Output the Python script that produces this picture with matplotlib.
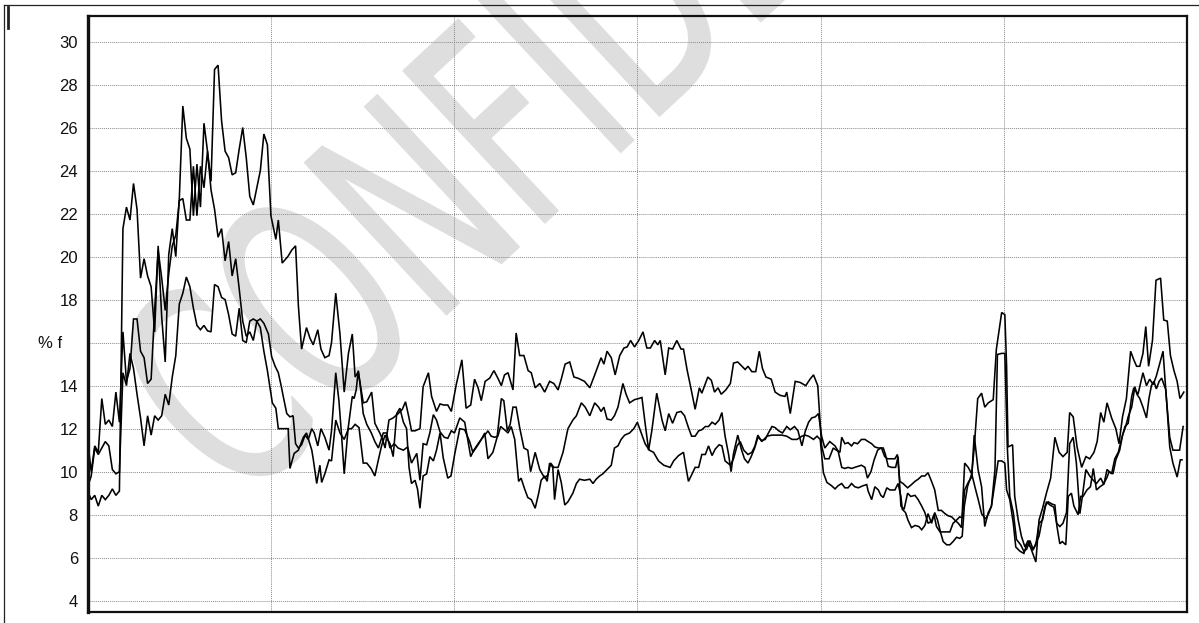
import matplotlib
matplotlib.use("Agg")
import matplotlib.pyplot as plt
from matplotlib.lines import Line2D
from matplotlib.textpath import TextPath
from matplotlib.patches import PathPatch
from matplotlib.font_manager import FontProperties
from matplotlib.transforms import Affine2D, IdentityTransform

plt.rcParams['font.family'] = ['Liberation Sans', 'DejaVu Sans']

# three weekly vol series: (week from start, % vol)
a_pts = [
    (0, 9.1), (1, 8.7), (2, 8.9), (3, 8.4), (4, 8.9), (5, 8.7), (6, 8.9), (7, 9.2), (8, 8.9), (9, 9.1),
    (10, 21.3), (11, 22.3), (12, 21.7), (13, 23.4), (14, 22.2), (15, 19.0), (16, 19.9), (17, 19.1), (18, 18.6), (19, 16.5),
    (20, 20.5), (21, 17.2), (22, 15.1), (23, 20.1), (24, 21.3), (25, 20.0), (26, 22.7), (27, 27.0), (28, 25.5), (29, 25.0),
    (30, 21.9), (31, 24.3), (32, 22.3), (33, 26.2), (34, 24.9), (35, 23.5), (36, 28.7), (37, 28.9), (38, 26.3), (39, 24.9),
    (40, 24.6), (41, 23.8), (42, 23.9), (43, 25.0), (44, 26.0), (45, 24.6), (46, 22.8), (47, 22.4), (48, 23.2), (49, 24.0),
    (50, 25.7), (51, 25.2), (52, 21.9), (53.4, 20.8), (54.1, 21.7), (55.2, 19.7), (56.8, 20.0), (57.9, 20.3), (59.0, 20.5), (59.8, 17.7),
    (60.7, 15.7), (62.1, 16.7), (63.1, 16.2), (64.0, 15.9), (65.3, 16.6), (66.2, 15.7), (67.3, 15.3), (68.5, 15.4), (69.2, 16.0), (70.4, 18.3),
    (71.6, 16.4), (72.8, 13.7), (74.0, 15.5), (75.1, 16.4), (75.9, 14.4), (76.8, 14.65), (78.2, 13.2), (79.2, 13.25), (80.6, 13.7), (81.5, 12.25),
    (82.9, 11.8), (83.7, 11.5), (84.4, 11.1), (85.5, 12.4), (86.7, 12.5), (88.1, 12.7), (89.3, 12.9), (90.2, 13.25), (91.2, 12.5), (91.9, 11.9),
    (92.9, 11.9), (94.3, 12.0), (95.2, 13.95), (96.7, 14.6), (97.6, 13.5), (99.0, 12.8), (100.0, 13.15), (101.0, 13.1), (102.2, 13.1), (103.2, 12.8),
    (104.6, 14.05), (106.2, 15.2), (107.4, 12.95), (108.7, 13.1), (109.8, 14.3), (110.8, 13.9), (111.7, 13.3), (112.8, 14.2), (114.1, 14.35), (115.3, 14.7),
    (116.4, 14.35), (117.4, 14.0), (118.3, 14.5), (119.3, 14.6), (120.7, 13.8), (121.6, 16.45), (122.6, 15.4), (123.8, 15.4), (125.0, 14.7), (125.9, 14.6),
    (127.0, 13.9), (128.3, 14.1), (129.7, 13.7), (131.1, 14.2), (132.3, 14.1), (133.5, 13.8), (134.4, 14.3), (135.5, 15.0), (136.8, 15.1), (138.0, 14.4),
    (139.1, 14.35), (141.0, 14.2), (142.5, 13.9), (143.9, 14.5), (145.7, 15.3), (146.5, 15.0), (147.4, 15.6), (148.6, 15.3), (149.7, 14.5), (151.0, 15.4),
    (152.2, 15.75), (153.1, 15.8), (154.1, 16.1), (155.2, 15.8), (156.4, 16.1), (157.6, 16.5), (158.7, 15.75), (159.7, 15.75), (160.9, 16.1), (161.8, 15.9),
    (162.5, 16.1), (163.9, 14.5), (164.9, 15.75), (166.0, 15.7), (167.2, 16.1), (168.4, 15.7), (169.1, 15.7), (170.1, 14.75), (171.3, 13.8), (172.4, 12.9),
    (173.6, 13.9), (174.3, 13.65), (176.0, 14.4), (177.0, 14.25), (177.9, 13.7), (178.9, 13.9), (179.8, 13.6), (181.1, 13.8), (182.4, 14.1), (183.3, 15.05),
    (184.5, 15.1), (185.7, 14.9), (186.6, 14.75), (187.4, 14.9), (188.5, 14.65), (189.6, 14.65), (190.6, 15.6), (191.5, 14.8), (192.5, 14.4), (194.0, 14.3),
    (195.1, 13.7), (196.5, 13.55), (197.9, 13.5), (198.4, 13.7), (199.4, 12.7), (200.8, 14.2), (202.2, 14.15), (203.8, 14.0), (205.0, 14.3), (206.0, 14.5),
    (207.2, 14.0), (208.3, 11.2), (209.2, 10.6), (210.4, 10.6), (211.6, 11.1), (212.5, 11.0), (213.5, 10.9), (214.0, 11.6), (214.9, 11.3), (215.8, 11.35),
    (216.8, 11.2), (217.5, 11.35), (218.5, 11.3), (219.6, 11.5), (220.6, 11.5), (221.5, 11.4), (222.5, 11.3), (223.4, 11.15), (224.4, 11.1), (225.3, 11.1),
    (226.2, 10.7), (227.0, 10.6), (228.1, 10.6), (229.1, 10.6), (229.8, 10.8), (230.5, 9.55), (231.4, 9.45), (232.7, 9.25), (233.8, 9.4), (234.8, 9.55),
    (235.7, 9.65), (236.7, 9.8), (237.6, 9.8), (238.5, 9.95), (239.5, 9.55), (240.4, 9.15), (241.4, 8.2), (242.3, 8.2), (243.3, 8.05), (244.2, 7.95),
    (245.2, 7.9), (246.1, 7.75), (247.1, 7.6), (248.0, 7.4), (248.9, 10.4), (249.9, 10.2), (250.9, 9.9), (251.6, 11.1), (252.6, 13.4), (253.7, 13.65),
    (254.6, 13.0), (255.6, 13.2), (257.0, 13.35), (257.9, 15.7), (259.4, 17.4), (260.3, 17.3), (260.8, 14.9), (261.2, 11.15), (262.5, 11.25), (263.1, 8.85),
    (264.1, 7.75), (265.0, 7.0), (266.0, 6.5), (266.9, 6.8), (267.9, 6.35), (269.1, 5.8), (270.0, 7.75), (271.0, 8.3), (272.1, 9.0), (273.3, 9.7),
    (274.5, 11.6), (275.7, 10.9), (276.8, 10.7), (278.0, 10.9), (278.7, 12.75), (279.7, 12.55), (280.8, 11.15), (282.1, 10.2), (283.3, 10.7), (284.4, 10.6),
    (285.6, 10.9), (286.5, 11.4), (287.5, 12.75), (288.4, 12.3), (289.3, 13.2), (290.6, 12.5), (291.8, 12.0), (292.7, 11.3), (293.7, 12.55), (294.8, 13.4),
    (296.0, 15.6), (296.9, 15.2), (297.7, 14.9), (298.6, 14.9), (299.5, 15.5), (300.3, 16.75), (301.1, 14.9), (302.2, 16.1), (303.2, 18.9), (304.5, 19.0),
    (305.4, 17.05), (306.4, 17.0), (307.3, 15.4), (308.3, 14.7), (309.2, 14.2), (310.0, 13.4), (311.1, 13.7),
]

b_pts = [
    (0, 11.4), (1, 10.0), (2, 11.2), (3, 10.9), (4, 13.4), (5, 12.2), (6, 12.4), (7, 12.1), (8, 13.7), (9, 12.3),
    (10, 16.5), (11, 14.2), (12, 14.8), (13, 17.1), (14, 17.1), (15, 15.6), (16, 15.3), (17, 14.1), (18, 14.3), (19, 17.5),
    (20, 20.3), (21, 19.0), (22, 17.5), (23, 19.2), (24, 20.5), (25, 21.0), (26, 22.6), (27, 22.7), (28, 21.7), (29, 21.7),
    (30, 24.2), (31, 21.9), (32, 24.2), (33, 23.2), (34, 24.9), (35, 23.1), (36, 22.2), (37, 20.9), (38, 21.3), (39, 19.8),
    (40, 20.7), (41, 19.1), (42, 19.9), (43, 18.5), (44, 17.0), (45, 16.3), (46, 16.5), (47, 16.1), (48, 17.0), (49, 17.1),
    (50, 16.9), (51.3, 16.4), (52.2, 15.35), (53.2, 14.9), (54.1, 14.6), (54.9, 14.0), (55.5, 13.5), (56.5, 12.7), (57.4, 12.55), (58.3, 12.6),
    (59.0, 11.3), (59.8, 11.1), (60.7, 11.25), (61.7, 11.7), (62.6, 11.5), (63.6, 12.0), (64.3, 11.8), (65.3, 11.2), (66.2, 12.0), (67.3, 11.6),
    (68.5, 11.0), (69.2, 11.9), (70.4, 14.6), (71.3, 13.3), (72.0, 11.8), (72.8, 9.9), (73.9, 12.0), (75.1, 13.5), (75.6, 13.4), (76.2, 13.8),
    (76.8, 14.7), (77.5, 13.8), (78.2, 12.7), (79.2, 12.2), (80.5, 11.8), (81.5, 11.4), (82.5, 11.1), (83.9, 11.8), (84.8, 11.8), (85.8, 11.1),
    (87.0, 11.3), (88.1, 11.1), (89.6, 11.0), (90.8, 11.15), (91.9, 10.4), (93.4, 10.85), (94.3, 9.6), (95.2, 11.3), (96.2, 11.25), (97.1, 11.8),
    (98.1, 12.65), (99.0, 12.4), (100.0, 11.85), (101.2, 11.6), (102.2, 11.55), (103.2, 11.9), (104.1, 11.8), (105.6, 12.5), (107.0, 12.3), (108.7, 10.7),
    (109.6, 11.0), (110.8, 11.3), (111.7, 11.5), (112.7, 11.8), (113.6, 10.6), (115.0, 10.9), (116.2, 11.6), (117.4, 13.4), (118.1, 13.3), (119.1, 11.9),
    (119.9, 12.2), (120.7, 13.0), (121.6, 13.0), (122.6, 12.05), (123.8, 11.1), (124.9, 11.0), (125.7, 10.0), (127.0, 10.9), (128.3, 10.1), (129.7, 9.7),
    (130.6, 9.85), (131.4, 10.4), (132.3, 10.2), (133.5, 10.2), (134.9, 10.9), (136.3, 12.0), (137.7, 12.4), (138.7, 12.6), (140.1, 13.2), (141.2, 13.0),
    (142.5, 12.6), (143.9, 13.2), (145.0, 13.0), (145.7, 12.8), (146.5, 13.0), (147.4, 12.45), (148.6, 12.4), (149.5, 12.6), (150.5, 13.0), (151.9, 14.1),
    (152.8, 13.6), (153.8, 13.2), (155.2, 13.35), (156.4, 13.4), (157.3, 13.45), (158.2, 12.25), (159.2, 11.0), (160.1, 11.9), (161.5, 13.65), (163.0, 12.4),
    (163.9, 11.9), (164.9, 12.7), (166.0, 12.25), (167.2, 12.75), (168.4, 12.8), (169.4, 12.6), (170.5, 12.05), (171.4, 11.65), (172.4, 11.65), (173.4, 11.9),
    (174.3, 11.95), (175.3, 12.1), (176.2, 12.1), (177.2, 12.3), (178.1, 12.2), (179.2, 12.4), (180.0, 12.75), (180.9, 11.65), (181.9, 10.8), (182.6, 10.0),
    (183.3, 10.85), (184.5, 11.7), (185.5, 11.05), (186.4, 10.6), (187.4, 10.4), (188.3, 10.7), (189.3, 11.1), (190.2, 11.6), (191.3, 11.45), (192.3, 11.5),
    (193.2, 11.8), (194.2, 12.1), (195.1, 12.05), (196.1, 11.9), (197.2, 11.8), (198.4, 12.1), (199.4, 11.95), (200.6, 12.1), (201.6, 11.9), (202.7, 11.2),
    (203.6, 11.85), (204.6, 12.3), (205.5, 12.5), (206.5, 12.55), (207.4, 12.7), (208.3, 11.65), (209.2, 11.1), (210.6, 11.4), (212.1, 11.2), (213.0, 10.95),
    (214.0, 10.2), (214.9, 10.15), (215.8, 10.2), (216.8, 10.15), (217.7, 10.2), (218.7, 10.25), (219.6, 10.3), (220.6, 10.2), (221.3, 9.7), (222.3, 10.0),
    (223.2, 10.55), (224.2, 11.0), (225.1, 11.1), (225.8, 11.1), (226.4, 10.8), (227.2, 10.25), (228.2, 10.2), (229.3, 10.2), (230.0, 10.7), (230.8, 8.4),
    (231.7, 8.25), (232.7, 9.0), (233.6, 8.85), (234.8, 8.9), (235.7, 8.7), (236.7, 8.4), (237.6, 8.1), (238.5, 7.6), (239.5, 7.7), (240.2, 8.0),
    (240.9, 7.45), (241.9, 7.2), (242.8, 7.2), (243.8, 7.2), (244.7, 7.2), (245.6, 7.6), (246.6, 7.75), (247.5, 7.9), (248.2, 7.85), (248.9, 9.15),
    (249.9, 9.5), (250.9, 9.75), (251.6, 11.7), (252.7, 10.1), (253.7, 9.3), (254.6, 7.45), (255.6, 8.1), (256.5, 8.4), (257.5, 10.1), (258.2, 15.45),
    (259.4, 15.5), (260.3, 15.5), (261.0, 11.15), (261.7, 8.85), (262.7, 8.1), (263.6, 6.85), (264.8, 6.6), (265.7, 6.3), (266.5, 6.4), (267.4, 6.8),
    (268.3, 6.4), (269.1, 6.6), (270.0, 7.6), (271.0, 7.75), (272.1, 8.6), (273.1, 8.45), (274.2, 8.35), (275.0, 7.6), (275.9, 7.45), (276.8, 7.6),
    (277.8, 8.1), (278.7, 11.3), (279.7, 11.6), (280.6, 10.4), (281.6, 8.05), (282.3, 8.85), (283.3, 10.1), (284.4, 9.8), (285.4, 9.6), (286.3, 9.45),
    (287.5, 9.7), (288.4, 9.4), (289.3, 10.1), (290.6, 9.9), (291.5, 10.6), (292.5, 10.9), (293.4, 11.5), (294.4, 12.1), (295.3, 12.25), (296.3, 13.5),
    (296.9, 13.9), (298.1, 13.6), (299.5, 14.6), (300.5, 14.0), (301.4, 14.3), (302.4, 14.05), (303.3, 14.45), (304.3, 15.05), (305.2, 15.6), (306.1, 13.5),
    (307.1, 11.6), (308.0, 11.0), (309.0, 11.0), (309.9, 11.0), (310.9, 12.1),
]

c_pts = [
    (0, 9.3), (1, 9.8), (2, 11.1), (3, 10.8), (4, 11.1), (5, 11.4), (6, 11.2), (7, 10.1), (8, 9.9), (9, 10.0),
    (10, 14.6), (11, 14.0), (12, 15.5), (13, 14.8), (14, 13.6), (15, 12.5), (16, 11.2), (17, 12.6), (18, 11.7), (19, 12.6),
    (20, 12.4), (21, 12.6), (22, 13.6), (23, 13.1), (24, 14.4), (25, 15.4), (26, 17.8), (27, 18.3), (28, 19.05), (29, 18.6),
    (30, 17.6), (31, 16.8), (32, 16.6), (33, 16.8), (34, 16.55), (35, 16.5), (36, 18.7), (37, 18.6), (38, 18.1), (39, 18.0),
    (40, 17.3), (41, 16.4), (42, 16.3), (43, 17.6), (44, 16.1), (45, 16.0), (46, 17.0), (47, 17.1), (48, 17.0), (49, 16.7),
    (50, 15.6), (51, 14.7), (52.4, 13.2), (53.4, 12.95), (54.1, 12.0), (55.5, 12.0), (56.9, 12.0), (57.4, 10.15), (58.6, 10.85), (59.8, 11.0),
    (61.2, 11.6), (62.1, 11.8), (63.6, 11.0), (64.0, 10.6), (65.0, 9.45), (65.9, 10.3), (66.4, 9.5), (67.3, 9.9), (68.5, 10.55), (69.2, 10.5),
    (70.4, 12.4), (71.6, 11.8), (72.8, 11.5), (74.0, 12.0), (74.9, 12.0), (75.9, 12.2), (77.0, 12.05), (78.2, 10.4), (79.2, 10.4), (80.4, 10.15),
    (81.5, 9.8), (82.5, 10.55), (83.4, 11.2), (84.4, 11.7), (85.8, 11.3), (86.7, 10.7), (87.7, 12.7), (88.6, 12.95), (89.6, 12.3), (90.5, 12.0),
    (91.2, 10.2), (91.9, 9.45), (92.9, 9.6), (93.6, 9.2), (94.3, 8.3), (95.2, 9.8), (96.2, 9.9), (97.1, 10.7), (98.1, 10.5), (99.0, 11.0),
    (100.0, 11.8), (100.9, 10.65), (102.2, 9.7), (103.1, 9.8), (104.2, 10.85), (105.6, 12.0), (107.0, 11.95), (108.4, 11.4), (109.3, 10.9), (110.8, 11.25),
    (111.7, 11.5), (112.7, 11.7), (113.6, 11.9), (114.5, 11.65), (115.5, 11.6), (116.4, 11.65), (117.2, 12.1), (118.3, 11.95), (119.3, 11.8), (120.2, 12.1),
    (121.2, 11.5), (122.3, 9.55), (123.0, 9.7), (124.0, 9.2), (124.9, 8.8), (125.9, 8.7), (127.0, 8.3), (128.0, 9.0), (128.7, 9.6), (129.7, 9.8),
    (130.4, 9.55), (131.1, 10.4), (132.0, 10.2), (132.5, 8.7), (133.5, 10.1), (134.4, 9.5), (135.4, 8.45), (136.3, 8.6), (137.7, 9.0), (138.7, 9.45),
    (139.6, 9.65), (141.0, 9.6), (142.5, 9.65), (143.4, 9.45), (144.3, 9.65), (145.3, 9.8), (146.2, 9.9), (147.4, 10.1), (148.6, 10.3), (149.5, 11.1),
    (150.5, 11.2), (151.4, 11.5), (152.4, 11.7), (153.8, 11.8), (155.0, 12.0), (156.0, 12.3), (157.3, 11.7), (158.2, 11.3), (159.4, 11.0), (160.6, 10.9),
    (162.0, 10.5), (163.5, 10.3), (164.4, 10.25), (165.3, 10.2), (166.3, 10.5), (167.7, 10.75), (169.1, 10.9), (169.8, 10.2), (170.5, 9.55), (171.4, 9.85),
    (172.4, 10.2), (173.4, 10.2), (174.3, 10.8), (175.3, 10.8), (176.2, 11.2), (177.2, 10.75), (178.1, 11.05), (179.2, 11.25), (180.0, 11.2), (180.9, 10.5),
    (182.4, 10.3), (183.3, 10.6), (184.3, 11.2), (185.2, 11.4), (186.2, 11.0), (187.4, 10.8), (188.5, 10.9), (189.4, 11.2), (190.2, 11.7), (191.3, 11.4),
    (192.8, 11.65), (194.2, 11.7), (195.6, 11.7), (197.0, 11.7), (198.4, 11.65), (199.9, 11.5), (201.3, 11.5), (202.7, 11.65), (203.6, 11.7), (204.6, 11.65),
    (206.0, 11.5), (207.0, 11.65), (207.9, 11.5), (208.8, 9.95), (209.8, 9.5), (211.1, 9.35), (212.1, 9.2), (213.0, 9.35), (214.0, 9.45), (214.9, 9.25),
    (215.8, 9.25), (216.8, 9.45), (217.7, 9.3), (218.7, 9.25), (220.1, 9.35), (221.1, 9.4), (221.5, 9.1), (222.5, 8.7), (223.4, 9.3), (224.4, 9.15),
    (225.1, 8.9), (225.8, 8.8), (226.8, 9.25), (227.7, 9.15), (229.1, 9.15), (230.0, 9.45), (230.8, 8.85), (231.2, 8.25), (232.1, 8.1), (232.8, 7.75),
    (233.8, 7.4), (234.8, 7.5), (235.9, 7.45), (236.7, 7.3), (237.6, 7.5), (238.5, 8.05), (239.5, 7.6), (240.4, 8.1), (241.2, 7.75), (242.1, 7.15),
    (242.8, 6.75), (243.8, 6.6), (244.7, 6.6), (245.6, 6.75), (246.6, 6.95), (247.5, 6.9), (248.2, 7.0), (248.8, 8.4), (249.7, 9.3), (250.9, 9.9),
    (251.8, 9.3), (252.9, 8.6), (253.7, 8.05), (254.8, 7.8), (255.7, 8.05), (256.5, 8.4), (257.5, 9.5), (258.4, 10.5), (259.4, 10.5), (260.3, 10.4),
    (260.8, 9.15), (261.7, 8.7), (262.7, 7.6), (263.4, 6.5), (264.6, 6.3), (265.7, 6.2), (266.6, 6.65), (267.6, 6.5), (268.3, 6.35), (269.3, 6.75),
    (270.0, 7.0), (270.7, 7.6), (271.7, 8.4), (272.6, 8.6), (273.6, 8.5), (274.5, 8.45), (275.1, 7.45), (275.9, 6.65), (276.6, 6.75), (277.6, 6.6),
    (278.3, 8.85), (279.2, 9.0), (279.9, 8.4), (281.1, 8.0), (281.8, 8.85), (282.5, 8.85), (283.6, 9.15), (284.6, 9.3), (285.4, 10.15), (286.3, 9.15),
    (287.3, 9.3), (288.2, 9.4), (289.2, 9.7), (289.9, 10.0), (291.0, 9.9), (291.8, 10.55), (292.9, 11.0), (293.7, 11.7), (294.6, 12.1), (295.3, 12.55),
    (296.3, 13.0), (297.2, 13.95), (297.8, 13.6), (298.6, 13.4), (299.5, 13.0), (300.5, 12.5), (301.2, 13.4), (301.9, 14.0), (302.6, 14.2), (303.3, 13.85),
    (304.1, 14.2), (304.8, 14.35), (306.0, 13.8), (307.1, 11.15), (308.0, 10.4), (309.2, 9.75), (310.1, 10.55), (310.6, 10.55),
]

y_ticks = list(range(4, 31, 2))
hidden_tick = 16          # the axis caption sits where this label would go
year_breaks = [52, 104, 156, 208, 260]
y_label = '% f'
stamp = 'CONFIDENTIAL'

W, H = 1199, 623
fig = plt.figure(figsize=(W / 100, H / 100), dpi=100)
fig.patch.set_facecolor('white')

# plot box in pixel terms
left, right, top, bottom = 87.7, 1187.0, 15.7, 611.7
ax = fig.add_axes([left / W, (H - bottom) / H, (right - left) / W, (bottom - top) / H])
ax.patch.set_visible(False)

# grey stamp across the chart, drawn in pixel space behind the axes
tp = TextPath((0, 0), stamp, size=1, prop=FontProperties(family='DejaVu Sans'))
tr = Affine2D().scale(180, 285).rotate_deg(43).translate(238, 114)
stamp_patch = PathPatch(tr.transform_path(tp), facecolor='#dedede', edgecolor='#dedede',
                        lw=1.2, joinstyle='round', capstyle='round',
                        transform=IdentityTransform(), zorder=-1)
fig.add_artist(stamp_patch)

for pts in (a_pts, b_pts, c_pts):
    wk, vol = zip(*pts)
    ax.plot(wk, vol, color='black', lw=1.15, solid_joinstyle='miter')

ax.set_xlim(0, 312)
ax.set_ylim(3.49, 31.2)
ax.set_yticks(y_ticks)
ax.set_yticklabels(['' if t == hidden_tick else str(t) for t in y_ticks])
ax.set_xticks(year_breaks)
ax.set_xticklabels([])
ax.tick_params(axis='both', length=0)
ax.tick_params(axis='y', pad=7, labelsize=12, labelcolor='#111111')
ax.grid(True, color='#8a8a8a', linestyle=(0, (1, 1)), linewidth=0.7)

for side, lw in (('left', 2.4), ('top', 1.6), ('bottom', 1.6), ('right', 1.6)):
    ax.spines[side].set_linewidth(lw)
    ax.spines[side].set_color('#111111')

fig.text(38 / W, 1 - 343 / H, y_label, ha='left', va='center', fontsize=12, color='#111111')

# outer frame of the exported panel
for xs, ys, lw in (([4, W], [4.5, 4.5], 0.9), ([4, 4], [4.5, H], 0.9), ([7.5, 7.5], [7, 28], 2.0)):
    fig.add_artist(Line2D([x / W for x in xs], [1 - y / H for y in ys],
                          transform=fig.transFigure, color='#222222', lw=lw))

fig.savefig('out.png', dpi=100)
